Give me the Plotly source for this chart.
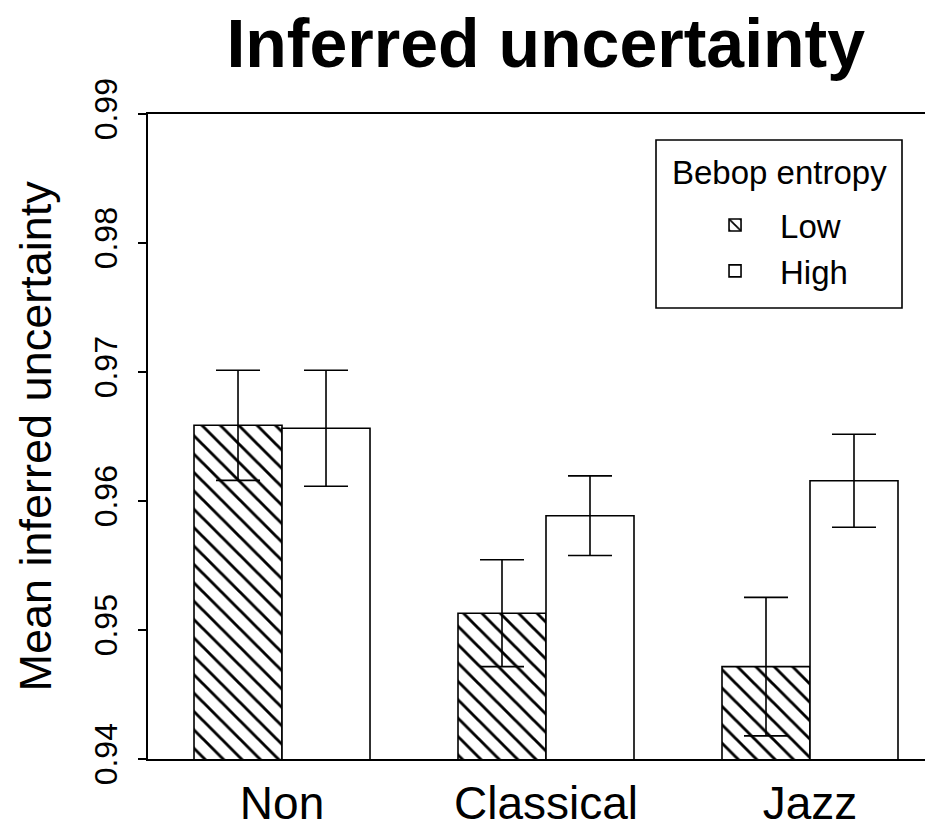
import plotly.graph_objects as go

categories = ["Non", "Classical", "Jazz"]
low_mean = [0.96587, 0.95130, 0.94716]
low_err = [0.00427, 0.00414, 0.00537]
high_mean = [0.96564, 0.95886, 0.96157]
high_err = [0.00450, 0.00309, 0.00360]
y_ticks = [0.94, 0.95, 0.96, 0.97, 0.98, 0.99]

FONT = "Liberation Sans, Arial, Helvetica, sans-serif"

fig = go.Figure()
fig.add_trace(go.Bar(
    x=categories, y=low_mean, name="Low",
    marker=dict(color="white", line=dict(color="black", width=1.6),
                pattern=dict(shape="\\", fgcolor="black", bgcolor="white",
                             fgopacity=1, size=13, solidity=0.22, fillmode="overlay")),
    error_y=dict(type="data", array=low_err, visible=True,
                 color="black", thickness=1.6, width=22),
))
fig.add_trace(go.Bar(
    x=categories, y=high_mean, name="High",
    marker=dict(color="white", line=dict(color="black", width=1.6)),
    error_y=dict(type="data", array=high_err, visible=True,
                 color="black", thickness=1.6, width=22),
))

fig.update_layout(
    width=925, height=828, autosize=False,
    margin=dict(l=148, r=0, t=114, b=69, autoexpand=False),
    paper_bgcolor="white", plot_bgcolor="white",
    barmode="group", bargap=1/3, bargroupgap=0,
    font=dict(family=FONT, color="black"),
    title=dict(text="<b>Inferred uncertainty</b>", font=dict(size=68, family=FONT, color="black"),
               x=0.59, xanchor="center", xref="container",
               y=0.948, yanchor="middle", yref="container"),
    showlegend=True,
    legend=dict(
        font=dict(size=33),
        x=0.6976, xanchor="left", y=(759 - 197) / 645, yanchor="top",
        borderwidth=0, bgcolor="rgba(0,0,0,0)",
        traceorder="normal", itemwidth=80,
    ),
    xaxis=dict(
        type="category", range=[-0.5076, 2.4356],
        showline=True, linecolor="black", linewidth=1.6, mirror=True,
        ticks="", tickfont=dict(size=46), showgrid=False, zeroline=False,
        ticklabelstandoff=3, automargin=False,
    ),
    yaxis=dict(
        range=[0.94, 0.99], tickvals=y_ticks,
        ticktext=[f"{v:.2f}" for v in y_ticks],
        showline=True, linecolor="black", linewidth=1.6, mirror=False,
        ticks="outside", ticklen=8, tickwidth=1.6, tickcolor="black",
        tickangle=-90, tickfont=dict(size=32),
        showgrid=False, zeroline=False, ticklabelstandoff=8, automargin=False,
    ),
    shapes=[dict(
        type="rect", xref="paper", yref="paper",
        x0=0.6538, x1=0.9704, y0=0.6992, y1=0.9597,
        line=dict(color="black", width=1.6), fillcolor="rgba(0,0,0,0)",
        layer="above",
    )],
    annotations=[
        dict(text="Mean inferred uncertainty", textangle=-90,
             xref="paper", yref="paper", x=-0.1454, y=0.5,
             xanchor="center", yanchor="middle", showarrow=False,
             font=dict(size=45, family=FONT, color="black")),
        dict(text="Bebop entropy", xref="paper", yref="paper",
             x=0.8121, y=(759 - 172) / 645, xanchor="center", yanchor="middle",
             showarrow=False, font=dict(size=33, family=FONT, color="black")),
    ],
)

fig.write_html("out.html")
